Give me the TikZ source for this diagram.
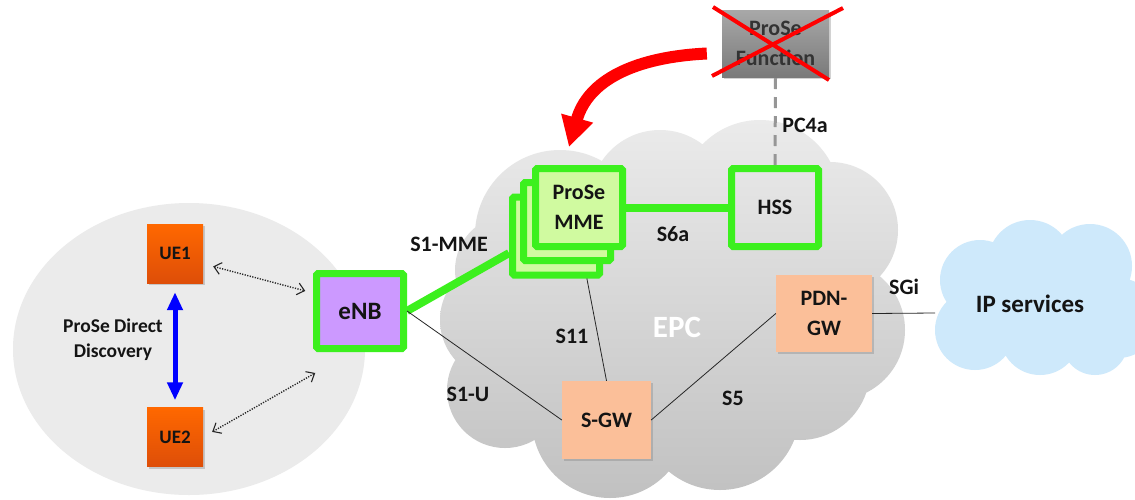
\documentclass[tikz,border=0pt]{standalone}
\usepackage{fontspec}
\setmainfont{Carlito}
\usetikzlibrary{arrows.meta,shadows}
\definecolor{grn}{RGB}{60,240,30}
\definecolor{mmefill}{RGB}{208,250,160}
\definecolor{enbfill}{RGB}{204,153,255}
\definecolor{peach}{RGB}{251,191,153}
\definecolor{ueT}{RGB}{255,104,0}
\definecolor{ueB}{RGB}{222,78,8}
\definecolor{pfT}{RGB}{168,168,168}
\definecolor{pfB}{RGB}{122,122,122}
\definecolor{ellgray}{RGB}{235,235,235}
\definecolor{epcT}{RGB}{236,236,236}
\definecolor{epcB}{RGB}{192,192,192}
\definecolor{ipblue}{RGB}{206,233,251}
\definecolor{txt}{RGB}{20,20,20}
\definecolor{dashgray}{RGB}{150,150,150}
\begin{document}
\begin{tikzpicture}[x=1pt,y=-1pt,font=\bfseries,
  box/.style={rectangle,inner sep=0pt,align=center,text=txt},
  shad/.style={drop shadow={opacity=0.35,shadow xshift=2pt,shadow yshift=-2pt}},
  gboxplain/.style={box,draw=grn,line width=7pt,rounded corners=1.5pt,minimum width=87pt,minimum height=78pt},
  gbox/.style={gboxplain,shad},
  pbox/.style={box,fill=peach,shad},
  uebox/.style={box,top color=ueT,bottom color=ueB,minimum width=56pt,minimum height=59pt,shad,font=\bfseries\fontsize{19}{22}\selectfont},
  lbl/.style={text=txt,font=\bfseries\fontsize{22}{26}\selectfont},
  big/.style={font=\bfseries\fontsize{22}{30}\selectfont},
  glink/.style={draw=grn,line width=8pt},
  thin/.style={draw=black!85,line width=0.8pt},
  dotarrow/.style={draw=black!85,line width=1.4pt,dash pattern=on 1.2pt off 1.4pt,{Straight Barb[length=7pt,width=12pt,line width=1.1pt,sep]}-{Straight Barb[length=7pt,width=12pt,line width=1.1pt]},shorten <=9pt,shorten >=8pt}
]
\useasboundingbox (0,0) rectangle (1135,499);
\fill[white] (0,0) rectangle (1135,499);

% left ellipse
\fill[ellgray] (189,349) ellipse [x radius=176pt,y radius=146pt];

% EPC cloud
\begin{scope}
\clip (560,235) circle (85pt) (510,270) circle (55pt) (500,320) circle (60pt)
      (505,390) circle (58pt) (610,420) circle (78pt) (720,410) circle (80pt)
      (800,370) circle (70pt) (835,330) circle (70pt) (830,230) circle (68pt)
      (760,200) circle (80pt) (660,200) circle (70pt) (680,310) circle (130pt)
      (560,345) circle (65pt);
\shade[top color=epcT,bottom color=epcB] (430,110) rectangle (920,505);
\end{scope}

% IP services cloud
\begin{scope}
\clip (0,0) rectangle (1135,499);
\fill[ipblue] (980,280) circle (40pt) (1030,262) circle (42pt) (1090,266) circle (42pt)
      (1118,318) circle (40pt) (975,330) circle (40pt) (1040,335) circle (40pt)
      (1095,342) circle (33pt) (1040,300) circle (55pt);
\end{scope}
\node[box,font=\bfseries\fontsize{25}{28}\selectfont] (ip) at (1030,304) {IP services};
\coordinate (ipL) at (935,313);

% nodes
\node[uebox] (ue1) at (175,253.5) {UE1};
\node[uebox] (ue2) at (175,437) {UE2};
\node[box,font=\bfseries\fontsize{19.5}{25}\selectfont] (pdd) at (113,340) {ProSe Direct\\Discovery};

\node[gbox,fill=enbfill,minimum height=75pt,font=\bfseries\fontsize{25}{28}\selectfont] (enb) at (360,311) {eNB};

\node[gbox,fill=mmefill] (mme3) at (556,236) {};
\node[gbox,fill=mmefill] (mme2) at (567,221.5) {};
\node[gbox,fill=mmefill,big] (mme1) at (579,207.5) {ProSe\\MME};

\node[gboxplain,big] (hss) at (775,207.5) {HSS};

\node[box,top color=pfT,bottom color=pfB,minimum width=107pt,minimum height=67pt,shad,big,text=black!80] (pf) at (775.5,43.5) {ProSe\\Function};

\node[pbox,minimum width=89pt,minimum height=78pt,big] (sgw) at (606.5,420) {S-GW};
\node[pbox,minimum width=96pt,minimum height=77pt,big] (pdn) at (824,313.5) {PDN-\\GW};

\node[box,text=white,font=\bfseries\fontsize{31}{34}\selectfont] (epc) at (677,327) {EPC};

% connectors
\draw[glink] (enb.east) -- (mme3.200);
\draw[glink] (mme1.east) -- (hss.west);
\draw[thin] (enb.east) -- (sgw.west);
\draw[thin] (mme3.-54) -- (sgw.north);
\draw[thin] (sgw.east) -- (pdn.west);
\draw[thin] (pdn.east) -- (ipL);
\draw[dashgray,line width=3pt,dash pattern=on 11pt off 8pt] (hss.north) -- (pf.south);

\draw[dotarrow] (ue1.-20) -- (enb.159);
\coordinate (e2) at (317,372);
\draw[dotarrow,shorten >=2pt] (ue2.east) -- (e2);

\draw[blue,line width=5pt,{Triangle[width=15pt,length=18pt]}-{Triangle[width=15pt,length=18pt]},shorten <=9pt,shorten >=7pt] (ue1.south) -- (ue2.north);

% labels
\node[lbl] (l1) at (449,244) {S1-MME};
\node[lbl] (l2) at (468,394) {S1-U};
\node[lbl] (l3) at (572,336) {S11};
\node[lbl] (l4) at (673,234) {S6a};
\node[lbl] (l5) at (733,398) {S5};
\node[lbl] (l6) at (904,287) {SGi};
\node[lbl] (l7) at (805,125) {PC4a};

% red cross
\coordinate (xa) at (713,7);
\coordinate (xb) at (829,80);
\coordinate (xc) at (843,8);
\coordinate (xd) at (712,76);
\draw[red,line width=4pt] (xa) -- (xb);
\draw[red,line width=4pt] (xc) -- (xd);

% red curved arrow
\coordinate (redtip) at (569,147);
\draw[red,line width=12pt,-{Triangle[width=31pt,length=30pt]}]
  ([xshift=-15pt,yshift=-10pt]pf.west) .. controls (635,57) and (588,80) .. (redtip);
\end{tikzpicture}
\end{document}
